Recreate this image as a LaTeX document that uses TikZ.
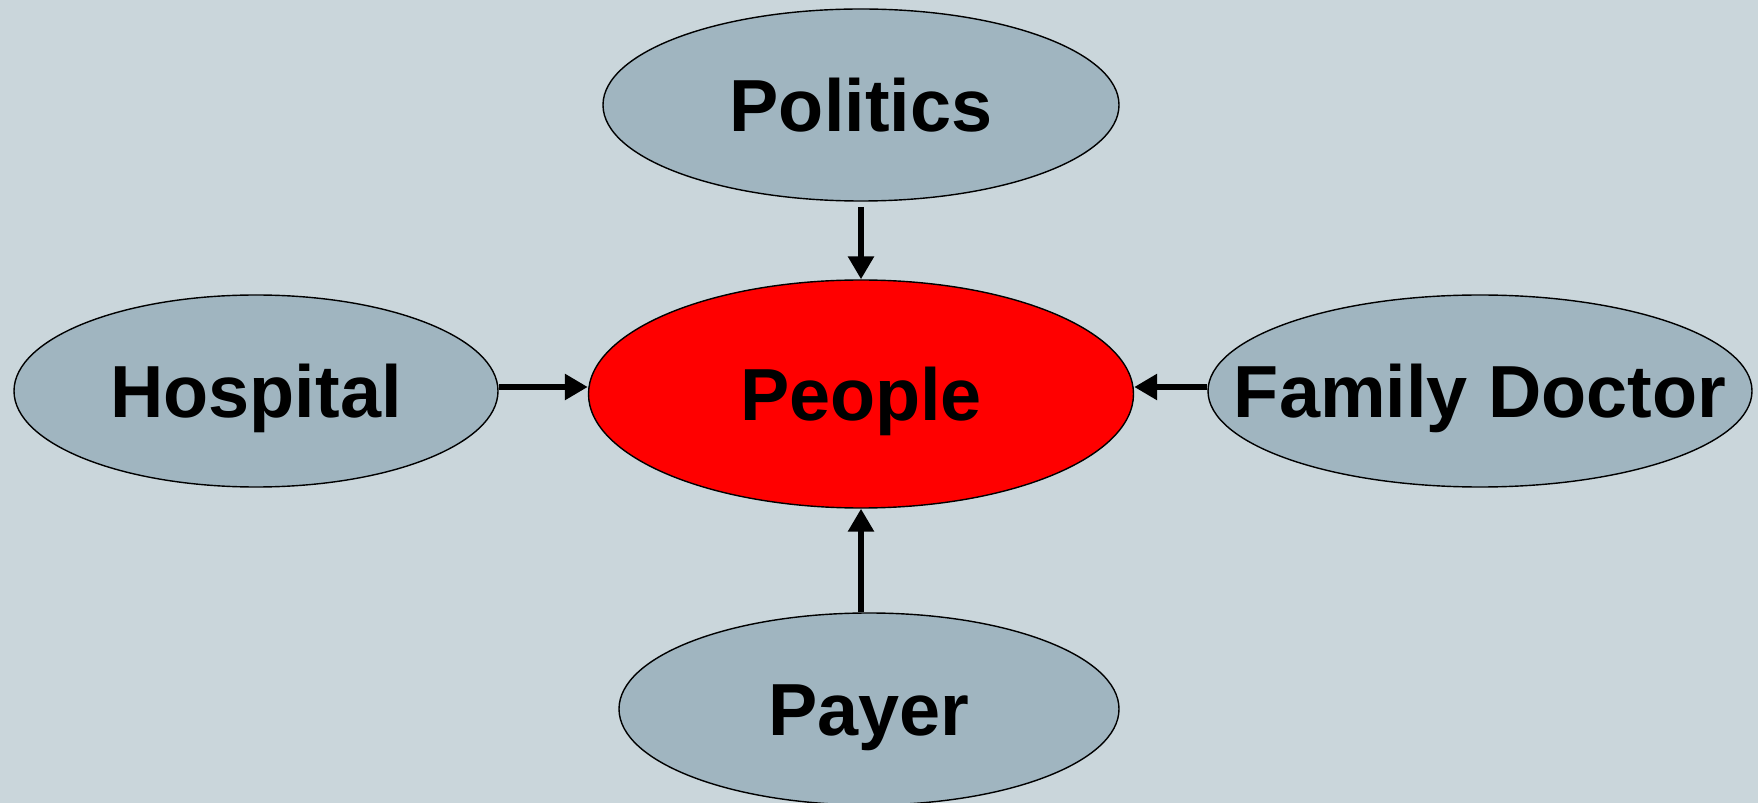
\documentclass[tikz,border=0pt]{standalone}
\usepackage{fontspec}
\setmainfont{Liberation Sans}
\usetikzlibrary{shapes.geometric,arrows.meta}
\definecolor{bgblue}{RGB}{202,214,219}
\definecolor{nodeblue}{RGB}{160,181,192}
\begin{document}
\begin{tikzpicture}[every node/.style={ellipse, draw, line width=0.8pt, fill=nodeblue, inner sep=0pt, text height=1.06cm, text depth=0pt, font=\fontsize{42}{48}\selectfont\bfseries}, link/.style={line width=3.4pt, -{Triangle[length=0.46cm,width=0.5cm]}}]
  \fill[bgblue] (0,0) rectangle (35.16,-16.06);
  \useasboundingbox (0,0) rectangle (35.16,-16.06);
  \node[minimum width=10.32cm, minimum height=3.84cm] (politics) at (17.22, -2.10) {Politics};
  \node[minimum width=10.9cm, minimum height=4.56cm, fill=red] (people) at (17.22, -7.88) {People};
  \node[minimum width=9.68cm, minimum height=3.84cm] (hospital) at (5.12, -7.82) {Hospital};
  \node[minimum width=10.88cm, minimum height=3.84cm, inner xsep=-1.1cm] (doctor) at (29.6, -7.82) {Family Doctor};
  \node[minimum width=10.0cm, minimum height=3.84cm] (payer) at (17.38, -14.18) {Payer};
  \draw[link, shorten <=3pt] (politics.south) -- (people.north);
  \draw[link] ([yshift=0.08cm]hospital.east) -- ([yshift=0.08cm]hospital.east -| people.west);
  \draw[link] ([yshift=0.08cm]doctor.west) -- ([yshift=0.08cm]doctor.west -| people.east);
  \draw[link] (people.south |- payer.north) -- (people.south);
\end{tikzpicture}
\end{document}
